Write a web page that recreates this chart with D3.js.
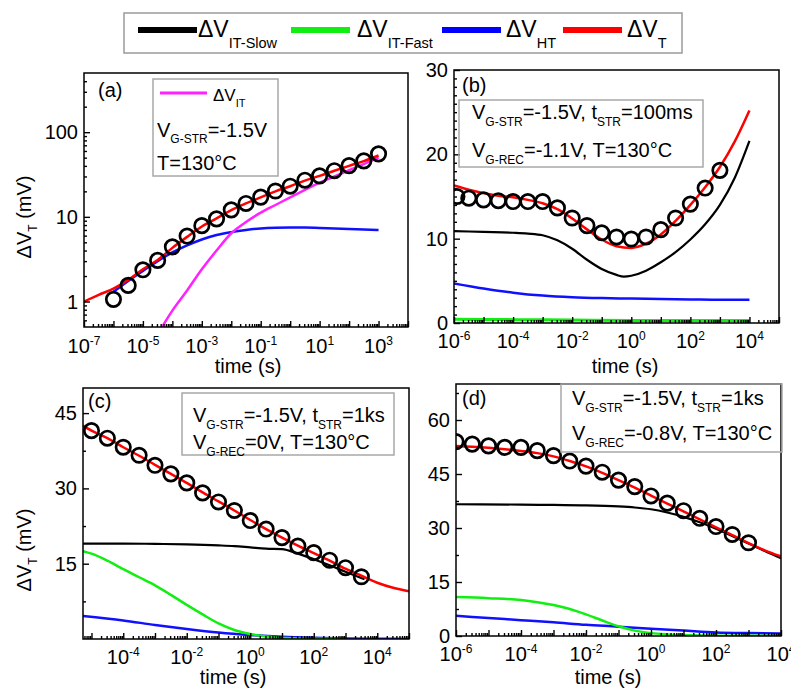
<!DOCTYPE html>
<html><head><meta charset="utf-8">
<script src="https://cdn.jsdelivr.net/npm/d3@7"></script>
<style>
body{margin:0;background:#fff}
svg{display:block}
text{font-family:Arial,"Liberation Sans",sans-serif;fill:#000}
</style>
</head><body>
<svg id="c" width="791" height="690"></svg>
<script>
// ---------------- DATA ----------------
const legendLabels = ["IT-Slow", "IT-Fast", "HT", "T"];
const legendColors = ["#000000", "#11ee11", "#0000ff", "#ff0000"];

// Panel (a)  (times are log10 of seconds)
const aTickExp = [-7, -5, -3, -1, 1, 3];
const aYTicks = [1, 10, 100];
const aCircT = [-6, -5.5, -5, -4.5, -4, -3.5, -3, -2.5, -2, -1.5, -1, -0.5, 0, 0.5, 1, 1.5, 2, 2.5, 3];
const aCircV = [1.06, 1.55, 2.37, 3.06, 4.42, 5.93, 7.87, 9.47, 12.1, 14.4, 17.1, 20.2, 23.0, 27.1, 30.5, 35.1, 40.3, 45.8, 55.5];
const aRedT = [-7, -6.5, -6, -5.5, -5, -4.5, -4, -3.5, -3, -2.5, -2, -1.5, -1, -0.5, 0, 0.5, 1, 1.5, 2, 2.5, 3];
const aRedV = [1.0, 1.2, 1.42, 1.8, 2.4, 3.1, 4.3, 5.8, 7.7, 9.6, 12.0, 14.4, 17.0, 20.0, 23.0, 26.8, 30.5, 35.0, 40.0, 45.5, 53.0];
const aBlueT = [-6, -5.5, -5, -4.5, -4, -3.5, -3, -2.5, -2, -1.5, -1, -0.5, 0, 0.5, 1, 1.5, 2, 2.5, 3];
const aBlueV = [1.3, 1.75, 2.3, 3.0, 3.8, 4.6, 5.4, 6.1, 6.6, 7.0, 7.3, 7.45, 7.5, 7.5, 7.4, 7.3, 7.2, 7.1, 7.0];
const aMagT = [-4.35, -4, -3.5, -3, -2.5, -2, -1.5, -1, -0.5, 0, 0.5, 1, 1.5, 2, 2.5, 3];
const aMagV = [0.5, 0.78, 1.35, 2.4, 4.0, 6.4, 8.7, 11.2, 13.8, 17.0, 20.8, 25.3, 30.0, 35.5, 42.0, 50.0];

// Panel (b)
const bTickExp = [-6, -4, -2, 0, 2, 4];
const bYTicks = [0, 10, 20, 30];
const bCircT = [-5.9, -5.5, -5, -4.5, -4, -3.5, -3, -2.5, -2, -1.5, -1, -0.5, 0, 0.5, 1, 1.5, 2, 2.5, 3];
const bCircV = [15.0, 14.8, 14.6, 14.5, 14.4, 14.4, 14.4, 13.65, 12.45, 11.55, 10.7, 10.2, 9.96, 10.2, 11.07, 12.45, 14.1, 16.0, 18.1];
const bRedT = [-6, -5.5, -5, -4.5, -4, -3.5, -3, -2.5, -2, -1.5, -1, -0.5, 0, 0.5, 1, 1.5, 2, 2.5, 3, 3.5, 4];
const bRedV = [16.3, 15.8, 15.4, 15.1, 14.9, 14.6, 14.2, 13.5, 12.4, 11.1, 9.9, 9.1, 8.9, 9.4, 10.5, 12.1, 14.0, 16.1, 18.5, 21.5, 25.2];
const bBlackT = [-6, -5, -4, -3.5, -3, -2.5, -2, -1.5, -1, -0.5, -0.25, 0, 0.5, 1, 1.5, 2, 2.5, 3, 3.5, 4];
const bBlackV = [10.9, 10.8, 10.7, 10.6, 10.4, 9.8, 8.8, 7.5, 6.4, 5.7, 5.5, 5.6, 6.2, 7.2, 8.4, 9.9, 11.7, 14.0, 17.2, 21.6];
const bBlueT = [-6, -5, -4, -3, -2, -1, 0, 1, 2, 3, 4];
const bBlueV = [4.7, 4.1, 3.6, 3.25, 3.05, 2.95, 2.9, 2.85, 2.8, 2.75, 2.75];
const bGreenT = [-6, -4, -2, 0, 2, 4];
const bGreenV = [0.45, 0.4, 0.35, 0.3, 0.3, 0.3];

// Panel (c)
const cTickExp = [-4, -2, 0, 2, 4];
const cYTicks = [15, 30, 45];
const cCircT = [-5, -4.5, -4, -3.5, -3, -2.5, -2, -1.5, -1, -0.5, 0, 0.5, 1, 1.5, 2, 2.5, 3, 3.5];
const cCircV = [41.5, 40.0, 38.2, 36.6, 34.6, 32.9, 31.1, 29.1, 27.3, 25.6, 23.6, 21.9, 20.2, 18.5, 17.2, 15.7, 14.2, 12.4];
const cRedT = [-5.27, -5, -4.5, -4, -3.5, -3, -2.5, -2, -1.5, -1, -0.5, 0, 0.5, 1, 1.5, 2, 2.5, 3, 3.5, 4, 4.5, 5];
const cRedV = [42.5, 41.5, 40.0, 38.2, 36.5, 34.7, 32.9, 31.1, 29.2, 27.4, 25.6, 23.7, 21.9, 20.2, 18.6, 17.1, 15.6, 14.0, 12.6, 11.2, 10.2, 9.5];
const cBlackT = [-5.27, -4, -3, -2, -1, -0.5, 0, 0.5, 1, 1.5, 2, 2.5, 3, 3.6];
const cBlackV = [19.0, 19.0, 18.95, 18.85, 18.65, 18.5, 18.25, 18.0, 17.9, 17.0, 15.9, 14.7, 13.4, 11.9];
const cGreenT = [-5.27, -5, -4.5, -4, -3.5, -3, -2.5, -2, -1.5, -1, -0.5, 0, 0.5, 1, 1.5, 2, 2.5, 3];
const cGreenV = [17.5, 17.0, 15.6, 13.9, 12.3, 10.7, 8.8, 6.8, 4.9, 3.1, 1.8, 1.0, 0.5, 0.25, 0.12, 0.06, 0.03, 0.02];
const cBlueT = [-5.27, -4, -3, -2, -1, 0, 1, 2, 3, 4, 5];
const cBlueV = [4.6, 3.7, 2.8, 2.0, 1.3, 0.8, 0.45, 0.25, 0.12, 0.05, 0.02];

// Panel (d)
const dTickExp = [-6, -4, -2, 0, 2, 4];
const dYTicks = [0, 15, 30, 45, 60];
const dCircT = [-6, -5.5, -5, -4.5, -4, -3.5, -3, -2.5, -2, -1.5, -1, -0.5, 0, 0.5, 1, 1.5, 2, 2.5, 3];
const dCircV = [54.0, 53.3, 52.8, 52.4, 52.4, 51.5, 50.1, 48.6, 47.2, 45.5, 43.3, 41.5, 38.9, 36.9, 34.8, 32.7, 30.4, 28.2, 25.9];
const dRedT = [-6, -5.5, -5, -4.5, -4, -3.5, -3, -2.5, -2, -1.5, -1, -0.5, 0, 0.5, 1, 1.5, 2, 2.5, 3, 3.5, 4];
const dRedV = [52.8, 52.6, 52.3, 51.9, 51.4, 50.8, 49.9, 48.6, 47.1, 45.3, 43.3, 41.2, 39.0, 36.8, 34.6, 32.4, 30.2, 28.0, 25.8, 23.8, 22.1];
const dBlackT = [-6, -4, -3, -2, -1, -0.5, 0, 0.5, 1, 1.5, 2, 2.5, 3, 3.5, 4];
const dBlackV = [36.6, 36.5, 36.4, 36.3, 36.0, 35.7, 35.2, 34.3, 33.1, 31.6, 29.8, 27.8, 25.7, 23.6, 21.6];
const dGreenT = [-6, -5, -4, -3.5, -3, -2.5, -2, -1.5, -1, -0.5, 0, 0.5, 1, 2, 3, 4];
const dGreenV = [10.8, 10.5, 10.0, 9.4, 8.6, 7.5, 6.0, 4.3, 2.7, 1.5, 0.8, 0.45, 0.25, 0.1, 0.05, 0.03];
const dBlueT = [-6, -5, -4, -3, -2, -1, 0, 1, 2, 3, 4];
const dBlueV = [5.6, 5.0, 4.4, 3.8, 3.1, 2.6, 2.0, 1.5, 1.0, 0.8, 0.7];

// ---------------- DRAWING ----------------
const svg = d3.select("#c");
const FONT = 20;

function rich(g, x, y, parts, fs, sfs, subDy, supDy, anchor) {
  const t = g.append("text").attr("x", x).attr("y", y)
    .attr("font-size", fs).attr("text-anchor", anchor || "start");
  let cur = 0;
  parts.forEach(([s, kind]) => {
    const target = kind === "sub" ? subDy : kind === "sup" ? -supDy : 0;
    t.append("tspan").attr("dy", target - cur)
      .attr("font-size", kind ? sfs : fs).text(s);
    cur = target;
  });
  return t;
}

function decadeTicks(dom) {
  const lo = Math.log10(dom[0]), hi = Math.log10(dom[1]);
  const major = [], minor = [];
  for (let e = Math.floor(lo) - 1; e <= Math.ceil(hi); e++) {
    const v = Math.pow(10, e);
    if (v >= dom[0] * 0.999 && v <= dom[1] * 1.001) major.push(v);
    for (let k = 2; k <= 9; k++) {
      const m = k * v;
      if (m > dom[0] && m < dom[1]) minor.push(m);
    }
  }
  return {major, minor};
}

function drawPanel(p) {
  const g = svg.append("g");
  const x = d3.scaleLog().domain(p.xDomain).range([p.x0, p.x1]);
  const y = (p.yLog ? d3.scaleLog() : d3.scaleLinear()).domain(p.yDomain).range([p.y1, p.y0]);
  const cid = "clip-" + p.name;
  svg.append("clipPath").attr("id", cid).append("rect")
    .attr("x", p.x0).attr("y", p.y0).attr("width", p.x1 - p.x0).attr("height", p.y1 - p.y0);
  const plot = g.append("g").attr("clip-path", `url(#${cid})`);
  const line = d3.line().x(d => x(Math.pow(10, d[0]))).y(d => y(d[1])).curve(d3.curveMonotoneX);

  p.series.forEach(s => {
    plot.append("path").datum(d3.zip(s.t, s.v)).attr("d", line)
      .attr("fill", "none").attr("stroke", s.color).attr("stroke-width", s.w || 2.5)
      .attr("stroke-linejoin", "round");
  });
  plot.append("g").selectAll("circle").data(d3.zip(p.circT, p.circV)).join("circle")
    .attr("cx", d => x(Math.pow(10, d[0]))).attr("cy", d => y(d[1])).attr("r", 7.2)
    .attr("fill", "none").attr("stroke", "#000").attr("stroke-width", 2.7);

  // ticks (inward)
  const xt = decadeTicks(p.xDomain);
  const styleAxis = sel => { sel.select(".domain").remove(); sel.selectAll("line").attr("stroke", "#000").attr("stroke-width", 1.4); };
  g.append("g").attr("transform", `translate(0,${p.y1})`)
    .call(d3.axisBottom(x).tickValues(xt.major).tickSize(-6).tickFormat("")).call(styleAxis);
  g.append("g").attr("transform", `translate(0,${p.y1})`)
    .call(d3.axisBottom(x).tickValues(xt.minor).tickSize(-3).tickFormat("")).call(styleAxis);
  let yMaj, yMin;
  if (p.yLog) { const yt = decadeTicks(p.yDomain); yMaj = yt.major; yMin = yt.minor; }
  else { yMaj = p.yMajor; yMin = p.yMinor; }
  g.append("g").attr("transform", `translate(${p.x0},0)`)
    .call(d3.axisLeft(y).tickValues(yMaj).tickSize(-6).tickFormat("")).call(styleAxis);
  g.append("g").attr("transform", `translate(${p.x0},0)`)
    .call(d3.axisLeft(y).tickValues(yMin).tickSize(-3).tickFormat("")).call(styleAxis);

  // tick labels
  p.xLabels.forEach(e => {
    rich(g, x(Math.pow(10, e)), p.y1 + p.xLabOff, [["10"], [String(e), "sup"]], FONT, 12, 0, 8, "middle");
  });
  p.yLabels.forEach(v => {
    g.append("text").attr("x", p.x0 - 6).attr("y", y(v) + 7).attr("text-anchor", "end")
      .attr("font-size", FONT).text(v);
  });

  // frame
  g.append("rect").attr("x", p.x0).attr("y", p.y0).attr("width", p.x1 - p.x0).attr("height", p.y1 - p.y0)
    .attr("fill", "none").attr("stroke", "#000").attr("stroke-width", 1.5);

  // panel letter
  g.append("text").attr("x", p.letterX).attr("y", p.letterY).attr("font-size", 20).text(p.letter);

  // axis titles
  g.append("text").attr("x", p.titleX).attr("y", p.titleY).attr("text-anchor", "middle")
    .attr("font-size", 20).text("time (s)");
  if (p.yTitleY) {
    rich(g.append("g").attr("transform", `translate(31,${p.yTitleY}) rotate(-90)`), 0, 0,
      [["ΔV"], ["T", "sub"], [" (mV)"]], 20, 12, 6, 0, "middle");
  }
  return {g, x, y};
}

// Panel (a)
drawPanel({
  name: "a", x0: 84, x1: 408, y0: 73, y1: 327,
  xDomain: [1e-7, 1e4], yDomain: [0.5, 500], yLog: true,
  xLabels: aTickExp, xLabOff: 26, yLabels: aYTicks,
  series: [
    {t: aBlueT, v: aBlueV, color: "#1010ff"},
    {t: aMagT, v: aMagV, color: "#ff22ff"},
    {t: aRedT, v: aRedV, color: "#ff0000"}
  ],
  circT: aCircT, circV: aCircV,
  letter: "(a)", letterX: 98, letterY: 97,
  titleX: 248, titleY: 373, yTitleY: 217
});
// Panel (b)
drawPanel({
  name: "b", x0: 454, x1: 779, y0: 70, y1: 323,
  xDomain: [1e-6, 1e5], yDomain: [0, 30], yLog: false,
  yMajor: [0, 10, 20, 30], yMinor: d3.range(1, 30).filter(v => v % 10 !== 0),
  xLabels: bTickExp, xLabOff: 25, yLabels: bYTicks,
  series: [
    {t: bGreenT, v: bGreenV, color: "#11ee11", w: 3},
    {t: bBlueT, v: bBlueV, color: "#1010ff"},
    {t: bBlackT, v: bBlackV, color: "#000000", w: 2.2},
    {t: bRedT, v: bRedV, color: "#ff0000"}
  ],
  circT: bCircT, circV: bCircV,
  letter: "(b)", letterX: 462, letterY: 92,
  titleX: 625, titleY: 373
});
// Panel (c)
drawPanel({
  name: "c", x0: 83, x1: 409, y0: 388, y1: 639,
  xDomain: [5.4e-6, 1e5], yDomain: [0, 50], yLog: false,
  yMajor: [15, 30, 45], yMinor: [7.5, 22.5, 37.5],
  xLabels: cTickExp, xLabOff: 25, yLabels: cYTicks,
  series: [
    {t: cBlueT, v: cBlueV, color: "#1010ff"},
    {t: cGreenT, v: cGreenV, color: "#11ee11"},
    {t: cBlackT, v: cBlackV, color: "#000000", w: 2.2},
    {t: cRedT, v: cRedV, color: "#ff0000"}
  ],
  circT: cCircT, circV: cCircV,
  letter: "(c)", letterX: 88, letterY: 408,
  titleX: 233, titleY: 684, yTitleY: 550
});
// Panel (d)
drawPanel({
  name: "d", x0: 456, x1: 781, y0: 384, y1: 636,
  xDomain: [1e-6, 1e4], yDomain: [0, 70], yLog: false,
  yMajor: [0, 15, 30, 45, 60], yMinor: [7.5, 22.5, 37.5, 52.5, 67.5],
  xLabels: dTickExp, xLabOff: 25, yLabels: dYTicks,
  series: [
    {t: dBlueT, v: dBlueV, color: "#1010ff"},
    {t: dGreenT, v: dGreenV, color: "#11ee11"},
    {t: dBlackT, v: dBlackV, color: "#000000", w: 2.2},
    {t: dRedT, v: dRedV, color: "#ff0000"}
  ],
  circT: dCircT, circV: dCircV,
  letter: "(d)", letterX: 462, letterY: 405,
  titleX: 608, titleY: 684
});

// ---------------- INSETS ----------------
const ins = svg.append("g");
function box(x, y, w, h) {
  ins.append("rect").attr("x", x).attr("y", y).attr("width", w).attr("height", h)
    .attr("fill", "none").attr("stroke", "#a8a8a8").attr("stroke-width", 1.5);
}
// (a)
box(153, 79, 125, 97);
ins.append("line").attr("x1", 160).attr("x2", 207).attr("y1", 93).attr("y2", 93)
  .attr("stroke", "#ff22ff").attr("stroke-width", 3);
rich(ins, 213, 101, [["ΔV"], ["IT", "sub"]], 17, 11, 6, 0);
rich(ins, 157, 137, [["V"], ["G-STR", "sub"], ["=-1.5V"]], 20, 12, 6, 0);
rich(ins, 157, 170, [["T=130°C"]], 20, 12, 6, 0);
// (b)
box(459, 100, 244, 67);
rich(ins, 472, 119, [["V"], ["G-STR", "sub"], ["=-1.5V, t"], ["STR", "sub"], ["=100ms"]], 20, 12, 7, 0);
rich(ins, 472, 157, [["V"], ["G-REC", "sub"], ["=-1.1V, T=130°C"]], 20, 12, 7, 0);
// (c)
box(182, 393, 212, 62);
rich(ins, 193, 422, [["V"], ["G-STR", "sub"], ["=-1.5V, t"], ["STR", "sub"], ["=1ks"]], 20, 12, 7, 0);
rich(ins, 193, 449, [["V"], ["G-REC", "sub"], ["=0V, T=130°C"]], 20, 12, 7, 0);
// (d)
box(561, 384, 221, 68);
rich(ins, 572, 405, [["V"], ["G-STR", "sub"], ["=-1.5V, t"], ["STR", "sub"], ["=1ks"]], 20, 12, 7, 0);
rich(ins, 572, 440, [["V"], ["G-REC", "sub"], ["=-0.8V, T=130°C"]], 20, 12, 7, 0);

// ---------------- TOP LEGEND ----------------
const lg = svg.append("g");
lg.append("rect").attr("x", 124).attr("y", 13).attr("width", 558).attr("height", 40)
  .attr("fill", "#fff").attr("stroke", "#9a9a9a").attr("stroke-width", 1.5);
const legLineX = [138, 291, 442, 563];
legendLabels.forEach((lab, i) => {
  lg.append("line").attr("x1", legLineX[i]).attr("x2", legLineX[i] + 59).attr("y1", 30).attr("y2", 30)
    .attr("stroke", legendColors[i]).attr("stroke-width", 6);
  rich(lg, legLineX[i] + 60 + (i === 1 ? 6 : 0) + (i === 2 ? 4 : 0) + (i === 3 ? 4 : 0), 37,
    [["ΔV"], [lab, "sub"]], 23, 14.5, 11, 0);
});
</script>
</body></html>
